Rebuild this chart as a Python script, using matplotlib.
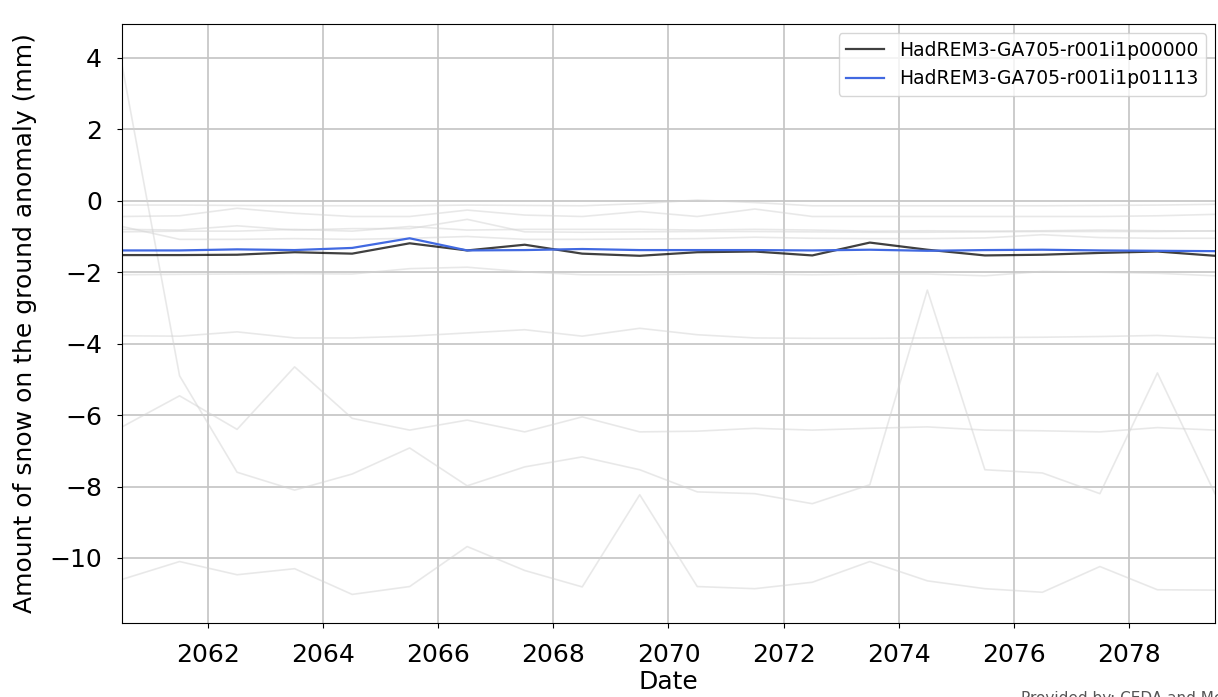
import numpy as np
import matplotlib
matplotlib.use('Agg')
import matplotlib.pyplot as plt

# yearly values, plotted at mid-year
years = np.arange(2060.5, 2080.5, 1.0)

# highlighted ensemble members
member_names = ['HadREM3-GA705-r001i1p00000', 'HadREM3-GA705-r001i1p01113']
member_a = [-1.52, -1.52, -1.51, -1.44, -1.48, -1.19, -1.39, -1.23, -1.48, -1.54,
            -1.44, -1.42, -1.53, -1.17, -1.37, -1.53, -1.51, -1.46, -1.42, -1.54]
member_b = [-1.39, -1.39, -1.36, -1.38, -1.32, -1.05, -1.39, -1.38, -1.35, -1.38,
            -1.38, -1.38, -1.39, -1.37, -1.40, -1.38, -1.37, -1.39, -1.40, -1.41]

# the other ensemble members (background)
others = [
    [3.8, -4.9, -7.6, -8.1, -7.65, -6.92, -7.98, -7.45, -7.17, -7.53,
     -8.15, -8.2, -8.48, -7.95, -2.5, -7.53, -7.62, -8.2, -4.82, -8.2],
    [-6.33, -5.46, -6.4, -4.65, -6.09, -6.42, -6.14, -6.47, -6.05, -6.47,
     -6.45, -6.37, -6.42, -6.37, -6.33, -6.42, -6.44, -6.47, -6.35, -6.42],
    [-10.6, -10.1, -10.47, -10.3, -11.02, -10.8, -9.68, -10.35, -10.81, -8.23,
     -10.8, -10.86, -10.68, -10.1, -10.64, -10.86, -10.96, -10.24, -10.89, -10.9],
    [-3.78, -3.79, -3.67, -3.84, -3.84, -3.79, -3.7, -3.61, -3.79, -3.57,
     -3.75, -3.84, -3.85, -3.85, -3.84, -3.83, -3.82, -3.8, -3.77, -3.84],
    [-0.12, -0.12, -0.13, -0.14, -0.14, -0.14, -0.12, -0.13, -0.14, -0.08,
     0.02, -0.05, -0.14, -0.14, -0.14, -0.14, -0.14, -0.13, -0.12, -0.10],
    [-0.44, -0.42, -0.21, -0.35, -0.44, -0.44, -0.26, -0.40, -0.44, -0.30,
     -0.44, -0.23, -0.44, -0.44, -0.44, -0.44, -0.44, -0.44, -0.42, -0.38],
    [-0.72, -1.08, -1.08, -1.06, -1.08, -1.05, -1.0, -1.08, -1.08, -1.07,
     -1.06, -1.02, -1.05, -1.06, -1.06, -1.04, -0.95, -1.03, -1.05, -1.05],
    [-0.80, -0.82, -0.70, -0.82, -0.78, -0.78, -0.52, -0.87, -0.88, -0.87,
     -0.86, -0.86, -0.87, -0.88, -0.88, -0.87, -0.86, -0.86, -0.86, -0.84],
    [-0.87, -0.85, -0.85, -0.80, -0.85, -0.72, -0.82, -0.80, -0.80, -0.80,
     -0.82, -0.80, -0.82, -0.85, -0.84, -0.85, -0.84, -0.82, -0.84, -0.85],
    [-2.07, -2.06, -2.05, -2.04, -2.05, -1.90, -1.86, -1.99, -2.07, -2.07,
     -2.05, -2.05, -2.07, -2.05, -2.05, -2.10, -1.98, -2.00, -2.03, -2.10],
]

xticks = [2062, 2064, 2066, 2068, 2070, 2072, 2074, 2076, 2078]

fig, ax = plt.subplots(figsize=(12.18, 6.97), dpi=100)
fig.subplots_adjust(left=0.1002, right=0.9975, top=0.9656, bottom=0.1062)

for vals in others:
    ax.plot(years, vals, color='lightgrey', alpha=0.5, linewidth=1.2)

ax.plot(years, member_a, color='black', alpha=0.75, linewidth=1.6, label=member_names[0])
ax.plot(years, member_b, color='royalblue', linewidth=1.6, label=member_names[1])

ax.set_xlim(2060.5, 2079.5)
ax.set_ylim(-11.82, 4.95)
ax.set_xticks(xticks)
ax.set_xticklabels([str(t) for t in xticks])
ax.tick_params(labelsize=18, pad=11)
ax.grid(True, color='#c4c4c4', linewidth=1.2)

ax.set_xlabel('Date', fontsize=18, labelpad=2)
ax.set_ylabel('Amount of snow on the ground anomaly (mm)', fontsize=18, labelpad=9)
ax.legend(loc='upper right', fontsize=13.5)

fig.text(0.838, -0.013, 'Provided by: CEDA and Met Office', fontsize=11,
         color='#555555', va='bottom')

plt.savefig('out.png', dpi=100)
